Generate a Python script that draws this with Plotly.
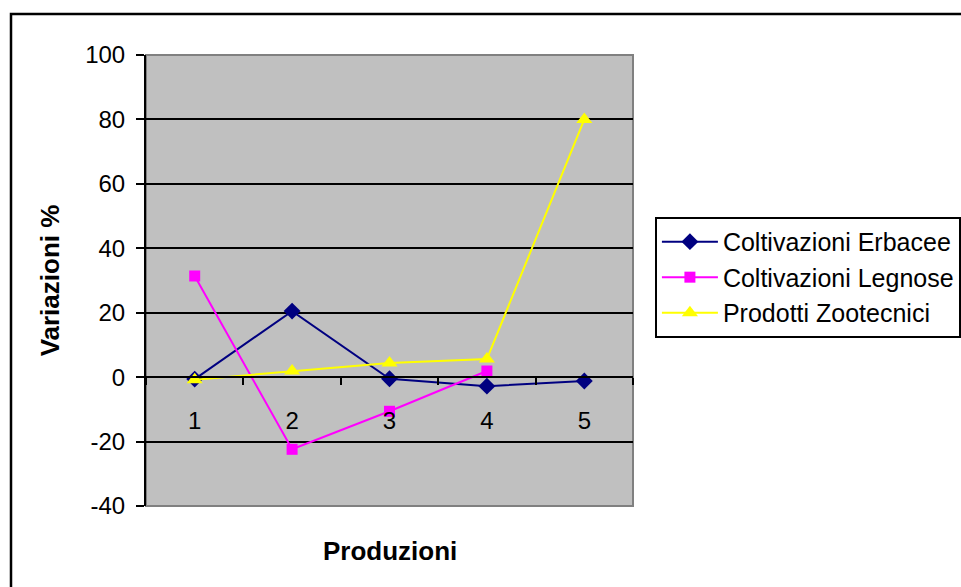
import plotly.graph_objects as go

# Production categories and percentage changes per series
categories = [1, 2, 3, 4, 5]
erbacee = [-0.6, 20.5, -0.5, -2.8, -1.2]
legnose = [31.4, -22.4, -10.6, 1.9, None]
zootecnici = [-0.8, 1.9, 4.4, 5.6, 80.0]
y_ticks = [-40, -20, 0, 20, 40, 60, 80, 100]
y_tick_text = ["-40", "-20", "0", "20", "40", "60", "80", "100"]

FONT = "Liberation Sans, Arial, sans-serif"

fig = go.Figure()
fig.add_trace(go.Scatter(
    x=categories, y=erbacee, name="Coltivazioni Erbacee", mode="lines+markers",
    line=dict(color="#000080", width=2),
    marker=dict(symbol="diamond", size=13, color="#000080")))
fig.add_trace(go.Scatter(
    x=categories, y=legnose, name="Coltivazioni Legnose", mode="lines+markers",
    line=dict(color="#FF00FF", width=2),
    marker=dict(symbol="square", size=11, color="#FF00FF")))
fig.add_trace(go.Scatter(
    x=categories, y=zootecnici, name="Prodotti Zootecnici", mode="lines+markers",
    line=dict(color="#FFFF00", width=2),
    marker=dict(symbol="triangle-up", size=14, color="#FFFF00")))

ymin, ymax = -40, 100
zero_pos = (0 - ymin) / (ymax - ymin)

fig.update_layout(
    width=961, height=587,
    margin=dict(l=146, r=328, t=55, b=81, autoexpand=False),
    paper_bgcolor="white",
    plot_bgcolor="#C0C0C0",
    font=dict(family=FONT, size=24, color="black"),
    showlegend=True,
    legend=dict(
        x=1.045, y=0.641, xanchor="left", yanchor="top",
        bordercolor="black", borderwidth=2, bgcolor="white",
        font=dict(family=FONT, size=25, color="black"),
        itemwidth=56, tracegroupgap=0,
    ),
    xaxis=dict(
        range=[0.5, 5.5], anchor="free", position=zero_pos,
        tickvals=categories, ticktext=[str(c) for c in categories],
        ticks="outside", ticklen=22, tickcolor="rgba(0,0,0,0)",
        minor=dict(tick0=0.5, dtick=1, ticks="outside", ticklen=7,
                   tickcolor="black", tickwidth=1.5, showgrid=False),
        showline=True, linecolor="black", linewidth=2,
        showgrid=False, zeroline=False,
        tickfont=dict(family=FONT, size=24, color="black"),
    ),
    yaxis=dict(
        range=[ymin, ymax], tickvals=y_ticks, ticktext=y_tick_text,
        ticks="outside", ticklen=8,
        tickcolor="black", tickwidth=1.5, ticklabelstandoff=6,
        showline=True, linecolor="black", linewidth=2,
        showgrid=True, gridcolor="black", gridwidth=1.5, zeroline=False,
        tickfont=dict(family=FONT, size=24, color="black"),
        title=dict(text="<b>Variazioni %</b>", standoff=18,
                   font=dict(family=FONT, size=26, color="black")),
    ),
    shapes=[
        # plot area frame (top/right edges)
        dict(type="rect", xref="paper", yref="paper", x0=0, x1=1, y0=0, y1=1,
             line=dict(color="#808080", width=2), layer="below"),
        # chart outer border
        dict(type="rect", xref="paper", yref="paper",
             x0=(11 - 146) / 487, x1=(990 - 146) / 487,
             y0=(506 - 620) / 451, y1=(506 - 14) / 451,
             line=dict(color="black", width=2.5)),
    ],
    annotations=[
        dict(text="<b>Produzioni</b>", xref="paper", yref="paper",
             x=0.5, y=(506 - 551) / 451, xanchor="center", yanchor="middle",
             showarrow=False, font=dict(family=FONT, size=26, color="black")),
    ],
)

fig.write_html("out.html")
